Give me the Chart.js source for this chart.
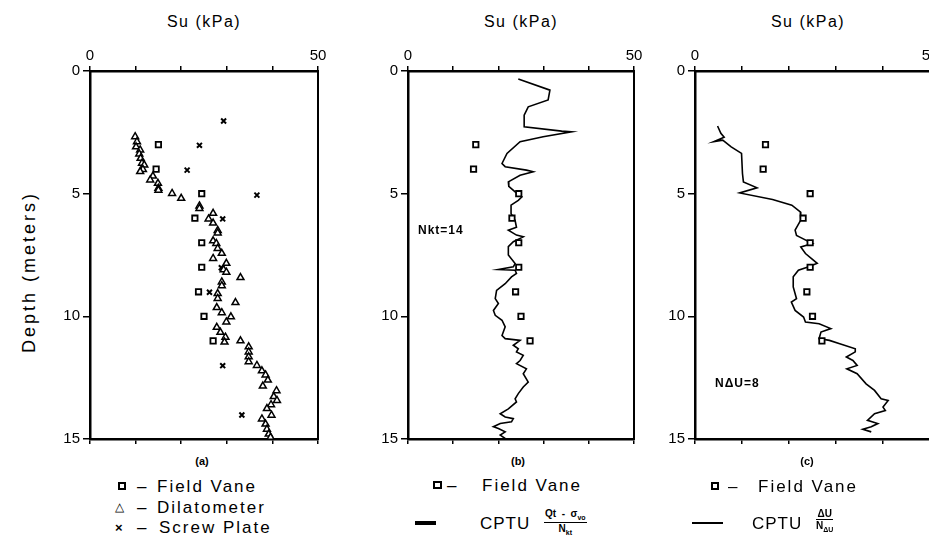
<!DOCTYPE html>
<html>
<head>
<meta charset="utf-8">
<script src="https://cdn.jsdelivr.net/npm/chart.js"></script>
<style>
body{margin:0;width:929px;height:538px;overflow:hidden;background:#fff;position:relative;font-family:'Liberation Sans',Arial,sans-serif;color:#000}
canvas{position:absolute}
.t{position:absolute;white-space:nowrap;line-height:1}
.ttl{font-size:16px;letter-spacing:1.5px;transform:translate(-50%,-50%)}
.lbl{font-size:17px;letter-spacing:2px;transform:translateY(-50%)}
.cap{font-size:11px;font-weight:bold;transform:translate(-50%,-50%)}
.sq{position:absolute;border:2px solid #000;box-sizing:border-box}
.frac{position:absolute;font-size:10px;font-weight:bold;text-align:center;line-height:1.1}
.frac .n{border-bottom:1.5px solid #000;padding:0 1px}
</style>
</head>
<body>
<canvas id="chartA" width="275" height="410" style="left:58px;top:41px"></canvas>
<canvas id="chartB" width="273" height="410" style="left:376px;top:41px"></canvas>
<canvas id="chartC" width="282" height="410" style="left:663px;top:41px"></canvas>

<div class="t ttl" style="left:204px;top:22px">Su (kPa)</div>
<div class="t ttl" style="left:521px;top:22px">Su (kPa)</div>
<div class="t ttl" style="left:808px;top:22px">Su (kPa)</div>

<div class="t" style="left:29px;top:272px;font-size:18px;letter-spacing:3px;transform:translate(-50%,-50%) rotate(-90deg)">Depth (meters)</div>

<div class="t" style="left:418px;top:224px;font-size:12px;font-weight:bold;letter-spacing:1px">Nkt=14</div>
<div class="t" style="left:715px;top:377px;font-size:12px;font-weight:bold;letter-spacing:1px">NΔU=8</div>

<div class="t cap" style="left:202px;top:461px">(a)</div>
<div class="t cap" style="left:518px;top:461px">(b)</div>
<div class="t cap" style="left:807px;top:461px">(c)</div>

<!-- legend (a) -->
<div class="sq" style="left:118px;top:482px;width:8px;height:8px"></div>
<div class="t lbl" style="left:137px;top:486px">–</div>
<div class="t lbl" style="left:157px;top:486px">Field Vane</div>
<div class="t" style="left:115px;top:501px;font-size:12px">△</div>
<div class="t lbl" style="left:137px;top:507px">–</div>
<div class="t lbl" style="left:157px;top:507px">Dilatometer</div>
<div class="t" style="left:115px;top:521px;font-size:13px;font-weight:bold">×</div>
<div class="t lbl" style="left:137px;top:527px">–</div>
<div class="t lbl" style="left:159px;top:527px">Screw Plate</div>

<!-- legend (b) -->
<div class="sq" style="left:433px;top:481px;width:9px;height:8px"></div>
<div class="t lbl" style="left:447px;top:485px">–</div>
<div class="t lbl" style="left:482px;top:485px">Field Vane</div>
<div style="position:absolute;left:415px;top:521px;width:21px;height:4px;background:#000"></div>
<div class="t lbl" style="left:480px;top:523px;letter-spacing:1px">CPTU</div>
<div class="frac" style="left:544px;top:508px"><div class="n">Qt&nbsp; - &nbsp;σ<sub style="font-size:7px">vo</sub></div><div>N<sub style="font-size:7px">kt</sub></div></div>

<!-- legend (c) -->
<div class="sq" style="left:711px;top:482px;width:8px;height:8px"></div>
<div class="t lbl" style="left:728px;top:486px">–</div>
<div class="t lbl" style="left:758px;top:486px">Field Vane</div>
<div style="position:absolute;left:692px;top:522px;width:31px;height:2px;background:#000"></div>
<div class="t lbl" style="left:752px;top:523px;letter-spacing:1px">CPTU</div>
<div class="frac" style="left:816px;top:508px"><div class="n">ΔU</div><div>N<sub style="font-size:7px">ΔU</sub></div></div>

<script>
// axis ticks
var suTicks = [0, 10, 20, 30, 40, 50];
var suLabels = [0, 50];
var depthTicks = [0, 5, 10, 15];

// field vane (same tests in all three panels)
var vaneSu    = [15.0, 14.5, 24.5, 23.0, 24.5, 24.5, 23.8, 25.0, 27.0];
var vaneDepth = [3, 4, 5, 6, 7, 8, 9, 10, 11];

// dilatometer
var dilSu = [9.9, 10.3, 10.1, 11.0, 10.8, 11.1, 11.4, 11.9, 11.6, 11.0, 13.8, 13.2, 14.9, 15.0, 15.0,
  18.0, 20.0, 24.0, 24.0, 27.0, 26.0, 27.0, 28.0, 28.0, 27.0, 27.7, 28.0, 28.9, 27.0, 29.9,
  29.3, 29.9, 33.0, 28.9, 28.9, 28.0, 28.0, 31.9, 27.8, 28.9, 30.9, 29.9, 27.8, 28.6, 29.7,
  33.0, 29.5, 34.8, 34.8, 34.8, 34.8, 36.6, 37.7, 38.5, 39.0, 37.9, 40.9, 40.3, 41.0, 39.7,
  38.8, 39.8, 37.7, 38.5, 38.8, 39.2, 39.6];
var dilDepth = [2.68, 2.88, 3.09, 3.22, 3.38, 3.56, 3.76, 3.83, 4.01, 4.1, 4.28, 4.44, 4.58, 4.78, 4.86,
  4.99, 5.19, 5.5, 5.6, 5.8, 6.03, 6.2, 6.5, 6.6, 6.92, 7.03, 7.23, 7.43, 7.64, 7.84,
  8.1, 8.2, 8.42, 8.6, 8.75, 9.07, 9.27, 9.44, 9.64, 9.85, 10.02, 10.23, 10.45, 10.65, 10.85,
  11.0, 11.05, 11.24, 11.45, 11.65, 11.85, 12.0, 12.22, 12.39, 12.6, 12.84, 13.03, 13.27, 13.43, 13.6,
  13.76, 14.03, 14.18, 14.39, 14.6, 14.8, 14.93];

// screw plate
var screwSu    = [29.3, 24.0, 21.3, 36.6, 29.1, 28.8, 26.2, 29.1, 33.3];
var screwDepth = [2.04, 3.03, 4.04, 5.06, 6.03, 8.02, 9.02, 12.01, 14.02];

// CPTU, cone resistance with Nkt = 14
var ktSu = [24.4, 31.4, 31.0, 26.6, 25.7, 25.7, 34.0, 36.2, 29.9, 24.8, 21.9, 20.8, 21.5, 26.2, 27.7,
  24.8, 22.2, 22.3, 23.7, 25.2, 24.4, 22.8, 22.8, 23.7, 24.0, 22.2, 24.0, 25.5, 23.3, 22.2,
  22.2, 23.7, 23.3, 20.0, 23.7, 24.0, 22.9, 21.5, 19.6, 19.3, 20.0, 18.9, 19.3, 20.8, 21.5,
  20.8, 21.5, 24.8, 23.3, 24.4, 24.0, 25.5, 24.8, 24.0, 26.2, 25.5, 26.6, 25.5, 24.4, 23.7,
  24.0, 22.2, 20.4, 21.5, 23.3, 22.9, 20.4, 18.9, 20.0, 21.5, 20.4, 21.5];
var ktDepth = [0.33, 0.78, 1.18, 1.46, 1.8, 2.27, 2.45, 2.48, 2.68, 2.88, 3.36, 3.77, 3.9, 4.04, 4.11,
  4.25, 4.52, 4.7, 4.93, 5.13, 5.27, 5.47, 5.81, 6.1, 6.37, 6.49, 6.69, 6.76, 6.96, 7.16,
  7.5, 7.85, 7.98, 8.09, 8.12, 8.25, 8.39, 8.67, 8.94, 9.28, 9.48, 9.76, 9.96, 10.16, 10.43,
  10.78, 10.91, 10.98, 11.18, 11.32, 11.45, 11.59, 11.8, 11.93, 12.14, 12.34, 12.68, 12.88, 13.15, 13.36,
  13.49, 13.77, 13.97, 14.1, 14.17, 14.3, 14.37, 14.5, 14.57, 14.71, 14.84, 14.98];

// CPTU, pore pressure with N_du = 8
var duSu = [4.8, 5.5, 6.2, 4.0, 5.9, 7.7, 9.9, 10.1, 10.3, 13.2, 9.5, 16.5, 20.6, 22.4, 22.5,
  21.3, 21.6, 22.2, 25.0, 22.5, 23.5, 26.0, 24.2, 22.0, 20.9, 20.9, 21.6, 20.5, 21.3, 23.1,
  23.5, 26.4, 28.9, 26.8, 26.4, 28.6, 30.8, 34.1, 34.1, 32.2, 33.6, 34.5, 32.3, 34.5, 36.4,
  38.2, 39.6, 41.1, 40.0, 40.5, 38.2, 36.7, 38.9, 37.5, 35.7, 37.5];
var duDepth = [2.24, 2.54, 2.7, 2.88, 2.82, 3.09, 3.36, 4.18, 4.52, 4.76, 4.97, 5.24, 5.47, 5.74, 6.08,
  6.49, 6.7, 6.76, 7.03, 7.17, 7.44, 7.84, 7.98, 8.12, 8.39, 8.8, 9.28, 9.42, 9.76, 10.03,
  10.23, 10.3, 10.5, 10.64, 10.91, 10.98, 11.12, 11.32, 11.45, 11.66, 11.8, 12.0, 12.14, 12.34, 12.75,
  13.02, 13.36, 13.43, 13.7, 13.84, 13.97, 14.24, 14.37, 14.5, 14.6, 14.71];

function pts(xs, ys) {
  return xs.map(function (v, i) { return {x: v, y: ys[i]}; });
}

var font = {family: "'Liberation Sans', Arial, sans-serif", size: 15};
var border = {display: true, color: '#000', width: 2.5};

function vaneSet() {
  return {data: pts(vaneSu, vaneDepth), pointStyle: 'rect', pointRadius: 3.8,
    borderColor: '#000', backgroundColor: '#fff', borderWidth: 1.8, showLine: false};
}

function makeChart(id, datasets) {
  return new Chart(document.getElementById(id), {
    type: 'scatter',
    data: {datasets: datasets},
    options: {
      responsive: false,
      devicePixelRatio: 1,
      animation: false,
      layout: {padding: {left: 0, right: 15, top: 0, bottom: 4}},
      plugins: {legend: {display: false}, tooltip: {enabled: false}},
      scales: {
        x: {
          type: 'linear', position: 'top', min: 0, max: 50,
          afterBuildTicks: function (s) { s.ticks = suTicks.map(function (v) { return {value: v}; }); },
          afterFit: function (s) { s.height = 30; },
          ticks: {autoSkip: false, maxRotation: 0, padding: 1, color: '#000', font: font,
            callback: function (v) { return suLabels.indexOf(v) >= 0 ? String(v) : ''; }},
          grid: {drawOnChartArea: false, tickLength: 5, color: '#000', lineWidth: 1.5},
          border: border
        },
        x2: {
          type: 'linear', position: 'bottom', min: 0, max: 50, display: true,
          afterBuildTicks: function (s) { s.ticks = suTicks.map(function (v) { return {value: v}; }); },
          afterFit: function (s) { s.height = 8; },
          ticks: {display: false},
          grid: {drawOnChartArea: false, tickLength: 5, color: '#000', lineWidth: 1.5},
          border: border
        },
        y: {
          type: 'linear', position: 'left', min: 0, max: 15, reverse: true,
          afterBuildTicks: function (s) { s.ticks = depthTicks.map(function (v) { return {value: v}; }); },
          afterFit: function (s) { s.width = 32; },
          ticks: {padding: 3, color: '#000', font: font},
          grid: {drawOnChartArea: false, tickLength: 7, color: '#000', lineWidth: 1.5},
          border: border
        },
        y2: {
          type: 'linear', position: 'right', min: 0, max: 15, reverse: true, display: true,
          afterFit: function (s) { s.width = 0; },
          ticks: {display: false},
          grid: {display: false, drawTicks: false},
          border: {display: true, color: '#000', width: 2}
        }
      }
    }
  });
}

makeChart('chartA', [
  vaneSet(),
  {data: pts(dilSu, dilDepth), pointStyle: 'triangle', pointRadius: 4,
    borderColor: '#000', backgroundColor: '#fff', borderWidth: 1.5},
  {data: pts(screwSu, screwDepth), pointStyle: 'crossRot', pointRadius: 3.5,
    borderColor: '#000', borderWidth: 2}
]);

makeChart('chartB', [
  vaneSet(),
  {data: pts(ktSu, ktDepth), showLine: true, pointRadius: 0, borderColor: '#000',
    borderWidth: 1.6, tension: 0}
]);

makeChart('chartC', [
  vaneSet(),
  {data: pts(duSu, duDepth), showLine: true, pointRadius: 0, borderColor: '#000',
    borderWidth: 1.6, tension: 0}
]);
</script>
</body>
</html>
